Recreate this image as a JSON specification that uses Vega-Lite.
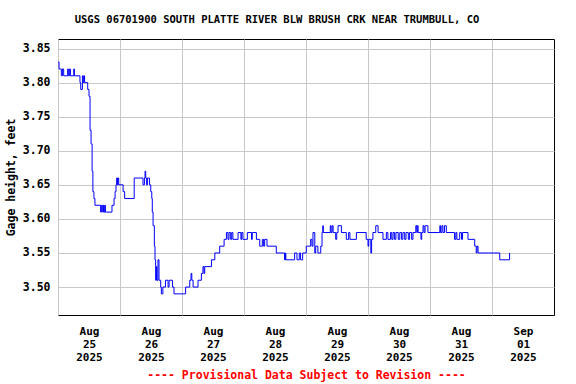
{
  "$schema": "https://vega.github.io/schema/vega-lite/v6.json",
  "width": 496,
  "height": 276,
  "autosize": "none",
  "padding": {"left": 58, "top": 39, "right": 22, "bottom": 69},
  "background": "white",
  "title": {
    "text": "USGS 06701900 SOUTH PLATTE RIVER BLW BRUSH CRK NEAR TRUMBULL, CO",
    "font": "DejaVu Sans Mono",
    "fontWeight": "bold",
    "fontSize": 10.5,
    "color": "black",
    "anchor": "middle",
    "frame": "group",
    "dx": -29,
    "offset": 14
  },
  "data": {
    "values": [
      {"t": "2025-08-25T00:00Z", "v": 3.83},
      {"t": "2025-08-25T00:24Z", "v": 3.82},
      {"t": "2025-08-25T01:18Z", "v": 3.81},
      {"t": "2025-08-25T01:42Z", "v": 3.82},
      {"t": "2025-08-25T02:12Z", "v": 3.81},
      {"t": "2025-08-25T03:45Z", "v": 3.82},
      {"t": "2025-08-25T04:00Z", "v": 3.81},
      {"t": "2025-08-25T04:30Z", "v": 3.82},
      {"t": "2025-08-25T04:48Z", "v": 3.81},
      {"t": "2025-08-25T06:06Z", "v": 3.82},
      {"t": "2025-08-25T06:21Z", "v": 3.81},
      {"t": "2025-08-25T08:30Z", "v": 3.80},
      {"t": "2025-08-25T08:48Z", "v": 3.79},
      {"t": "2025-08-25T09:27Z", "v": 3.81},
      {"t": "2025-08-25T09:48Z", "v": 3.80},
      {"t": "2025-08-25T10:06Z", "v": 3.81},
      {"t": "2025-08-25T10:18Z", "v": 3.80},
      {"t": "2025-08-25T11:30Z", "v": 3.79},
      {"t": "2025-08-25T12:00Z", "v": 3.78},
      {"t": "2025-08-25T12:24Z", "v": 3.73},
      {"t": "2025-08-25T12:48Z", "v": 3.71},
      {"t": "2025-08-25T13:12Z", "v": 3.67},
      {"t": "2025-08-25T13:30Z", "v": 3.64},
      {"t": "2025-08-25T13:54Z", "v": 3.63},
      {"t": "2025-08-25T14:18Z", "v": 3.62},
      {"t": "2025-08-25T16:30Z", "v": 3.61},
      {"t": "2025-08-25T16:48Z", "v": 3.62},
      {"t": "2025-08-25T17:18Z", "v": 3.61},
      {"t": "2025-08-25T17:36Z", "v": 3.62},
      {"t": "2025-08-25T17:48Z", "v": 3.61},
      {"t": "2025-08-25T18:06Z", "v": 3.62},
      {"t": "2025-08-25T18:21Z", "v": 3.61},
      {"t": "2025-08-25T20:54Z", "v": 3.62},
      {"t": "2025-08-25T21:42Z", "v": 3.63},
      {"t": "2025-08-25T22:06Z", "v": 3.64},
      {"t": "2025-08-25T22:27Z", "v": 3.65},
      {"t": "2025-08-25T22:42Z", "v": 3.66},
      {"t": "2025-08-25T23:00Z", "v": 3.65},
      {"t": "2025-08-25T23:12Z", "v": 3.66},
      {"t": "2025-08-25T23:30Z", "v": 3.65},
      {"t": "2025-08-26T01:12Z", "v": 3.64},
      {"t": "2025-08-26T01:48Z", "v": 3.63},
      {"t": "2025-08-26T05:30Z", "v": 3.66},
      {"t": "2025-08-26T08:54Z", "v": 3.65},
      {"t": "2025-08-26T09:27Z", "v": 3.66},
      {"t": "2025-08-26T09:42Z", "v": 3.67},
      {"t": "2025-08-26T09:57Z", "v": 3.66},
      {"t": "2025-08-26T10:18Z", "v": 3.65},
      {"t": "2025-08-26T10:36Z", "v": 3.66},
      {"t": "2025-08-26T11:24Z", "v": 3.65},
      {"t": "2025-08-26T11:54Z", "v": 3.64},
      {"t": "2025-08-26T12:18Z", "v": 3.63},
      {"t": "2025-08-26T12:30Z", "v": 3.61},
      {"t": "2025-08-26T12:48Z", "v": 3.59},
      {"t": "2025-08-26T13:18Z", "v": 3.56},
      {"t": "2025-08-26T13:33Z", "v": 3.54},
      {"t": "2025-08-26T13:48Z", "v": 3.51},
      {"t": "2025-08-26T14:06Z", "v": 3.53},
      {"t": "2025-08-26T14:18Z", "v": 3.51},
      {"t": "2025-08-26T14:42Z", "v": 3.54},
      {"t": "2025-08-26T15:06Z", "v": 3.51},
      {"t": "2025-08-26T15:45Z", "v": 3.50},
      {"t": "2025-08-26T16:00Z", "v": 3.49},
      {"t": "2025-08-26T16:36Z", "v": 3.50},
      {"t": "2025-08-26T17:36Z", "v": 3.51},
      {"t": "2025-08-26T18:36Z", "v": 3.50},
      {"t": "2025-08-26T19:00Z", "v": 3.51},
      {"t": "2025-08-26T20:18Z", "v": 3.50},
      {"t": "2025-08-26T20:54Z", "v": 3.49},
      {"t": "2025-08-27T01:24Z", "v": 3.50},
      {"t": "2025-08-27T03:00Z", "v": 3.51},
      {"t": "2025-08-27T03:30Z", "v": 3.52},
      {"t": "2025-08-27T03:48Z", "v": 3.51},
      {"t": "2025-08-27T04:18Z", "v": 3.50},
      {"t": "2025-08-27T06:12Z", "v": 3.51},
      {"t": "2025-08-27T07:30Z", "v": 3.52},
      {"t": "2025-08-27T08:06Z", "v": 3.53},
      {"t": "2025-08-27T08:30Z", "v": 3.52},
      {"t": "2025-08-27T08:48Z", "v": 3.53},
      {"t": "2025-08-27T11:24Z", "v": 3.54},
      {"t": "2025-08-27T12:42Z", "v": 3.55},
      {"t": "2025-08-27T14:36Z", "v": 3.56},
      {"t": "2025-08-27T16:18Z", "v": 3.57},
      {"t": "2025-08-27T17:12Z", "v": 3.58},
      {"t": "2025-08-27T17:48Z", "v": 3.57},
      {"t": "2025-08-27T18:12Z", "v": 3.58},
      {"t": "2025-08-27T18:51Z", "v": 3.57},
      {"t": "2025-08-27T19:15Z", "v": 3.58},
      {"t": "2025-08-27T19:42Z", "v": 3.57},
      {"t": "2025-08-27T21:42Z", "v": 3.58},
      {"t": "2025-08-27T22:48Z", "v": 3.57},
      {"t": "2025-08-27T23:06Z", "v": 3.58},
      {"t": "2025-08-27T23:36Z", "v": 3.57},
      {"t": "2025-08-28T01:18Z", "v": 3.58},
      {"t": "2025-08-28T02:54Z", "v": 3.57},
      {"t": "2025-08-28T03:12Z", "v": 3.58},
      {"t": "2025-08-28T04:48Z", "v": 3.57},
      {"t": "2025-08-28T06:06Z", "v": 3.56},
      {"t": "2025-08-28T07:06Z", "v": 3.57},
      {"t": "2025-08-28T07:36Z", "v": 3.56},
      {"t": "2025-08-28T08:00Z", "v": 3.57},
      {"t": "2025-08-28T08:54Z", "v": 3.56},
      {"t": "2025-08-28T12:30Z", "v": 3.55},
      {"t": "2025-08-28T15:42Z", "v": 3.54},
      {"t": "2025-08-28T16:00Z", "v": 3.55},
      {"t": "2025-08-28T16:12Z", "v": 3.54},
      {"t": "2025-08-28T19:36Z", "v": 3.55},
      {"t": "2025-08-28T20:30Z", "v": 3.54},
      {"t": "2025-08-28T21:24Z", "v": 3.55},
      {"t": "2025-08-28T21:54Z", "v": 3.54},
      {"t": "2025-08-28T22:42Z", "v": 3.55},
      {"t": "2025-08-29T00:06Z", "v": 3.56},
      {"t": "2025-08-29T01:48Z", "v": 3.57},
      {"t": "2025-08-29T02:18Z", "v": 3.56},
      {"t": "2025-08-29T02:42Z", "v": 3.58},
      {"t": "2025-08-29T03:24Z", "v": 3.55},
      {"t": "2025-08-29T03:45Z", "v": 3.56},
      {"t": "2025-08-29T04:36Z", "v": 3.55},
      {"t": "2025-08-29T05:42Z", "v": 3.56},
      {"t": "2025-08-29T06:12Z", "v": 3.58},
      {"t": "2025-08-29T06:30Z", "v": 3.59},
      {"t": "2025-08-29T06:42Z", "v": 3.58},
      {"t": "2025-08-29T09:24Z", "v": 3.59},
      {"t": "2025-08-29T09:42Z", "v": 3.58},
      {"t": "2025-08-29T10:06Z", "v": 3.59},
      {"t": "2025-08-29T10:30Z", "v": 3.58},
      {"t": "2025-08-29T11:30Z", "v": 3.57},
      {"t": "2025-08-29T11:54Z", "v": 3.58},
      {"t": "2025-08-29T12:24Z", "v": 3.59},
      {"t": "2025-08-29T13:42Z", "v": 3.58},
      {"t": "2025-08-29T15:36Z", "v": 3.57},
      {"t": "2025-08-29T16:30Z", "v": 3.58},
      {"t": "2025-08-29T17:00Z", "v": 3.57},
      {"t": "2025-08-29T19:30Z", "v": 3.58},
      {"t": "2025-08-29T23:18Z", "v": 3.57},
      {"t": "2025-08-30T00:00Z", "v": 3.56},
      {"t": "2025-08-30T00:18Z", "v": 3.57},
      {"t": "2025-08-30T01:06Z", "v": 3.55},
      {"t": "2025-08-30T01:24Z", "v": 3.57},
      {"t": "2025-08-30T01:54Z", "v": 3.58},
      {"t": "2025-08-30T03:00Z", "v": 3.59},
      {"t": "2025-08-30T03:54Z", "v": 3.58},
      {"t": "2025-08-30T05:48Z", "v": 3.57},
      {"t": "2025-08-30T07:06Z", "v": 3.58},
      {"t": "2025-08-30T07:42Z", "v": 3.57},
      {"t": "2025-08-30T08:42Z", "v": 3.58},
      {"t": "2025-08-30T09:12Z", "v": 3.57},
      {"t": "2025-08-30T09:42Z", "v": 3.58},
      {"t": "2025-08-30T10:18Z", "v": 3.57},
      {"t": "2025-08-30T10:48Z", "v": 3.58},
      {"t": "2025-08-30T11:42Z", "v": 3.57},
      {"t": "2025-08-30T12:18Z", "v": 3.58},
      {"t": "2025-08-30T13:00Z", "v": 3.57},
      {"t": "2025-08-30T13:30Z", "v": 3.58},
      {"t": "2025-08-30T14:12Z", "v": 3.57},
      {"t": "2025-08-30T14:42Z", "v": 3.58},
      {"t": "2025-08-30T15:36Z", "v": 3.57},
      {"t": "2025-08-30T16:06Z", "v": 3.58},
      {"t": "2025-08-30T16:54Z", "v": 3.57},
      {"t": "2025-08-30T17:24Z", "v": 3.58},
      {"t": "2025-08-30T18:30Z", "v": 3.59},
      {"t": "2025-08-30T18:54Z", "v": 3.58},
      {"t": "2025-08-30T19:06Z", "v": 3.59},
      {"t": "2025-08-30T19:24Z", "v": 3.58},
      {"t": "2025-08-30T20:30Z", "v": 3.57},
      {"t": "2025-08-30T20:48Z", "v": 3.58},
      {"t": "2025-08-30T21:18Z", "v": 3.59},
      {"t": "2025-08-30T21:42Z", "v": 3.58},
      {"t": "2025-08-30T22:06Z", "v": 3.59},
      {"t": "2025-08-30T23:12Z", "v": 3.58},
      {"t": "2025-08-31T03:48Z", "v": 3.59},
      {"t": "2025-08-31T04:06Z", "v": 3.58},
      {"t": "2025-08-31T04:36Z", "v": 3.59},
      {"t": "2025-08-31T05:00Z", "v": 3.58},
      {"t": "2025-08-31T05:36Z", "v": 3.59},
      {"t": "2025-08-31T06:18Z", "v": 3.58},
      {"t": "2025-08-31T09:30Z", "v": 3.57},
      {"t": "2025-08-31T10:00Z", "v": 3.58},
      {"t": "2025-08-31T10:24Z", "v": 3.57},
      {"t": "2025-08-31T11:30Z", "v": 3.58},
      {"t": "2025-08-31T12:12Z", "v": 3.57},
      {"t": "2025-08-31T12:36Z", "v": 3.58},
      {"t": "2025-08-31T14:42Z", "v": 3.57},
      {"t": "2025-08-31T17:18Z", "v": 3.56},
      {"t": "2025-08-31T17:54Z", "v": 3.55},
      {"t": "2025-08-31T18:12Z", "v": 3.56},
      {"t": "2025-08-31T18:36Z", "v": 3.55},
      {"t": "2025-09-01T03:00Z", "v": 3.54},
      {"t": "2025-09-01T06:48Z", "v": 3.55}
    ]
  },
  "mark": {"type": "line", "interpolate": "step-after", "color": "#0000ff", "strokeWidth": 1},
  "encoding": {
    "x": {
      "field": "t",
      "type": "temporal",
      "scale": {
        "type": "utc",
        "domain": [
          {"year": 2025, "month": 8, "date": 25, "utc": true},
          {"year": 2025, "month": 9, "date": 2, "utc": true}
        ]
      },
      "axis": {
        "values": [
          {"year": 2025, "month": 8, "date": 25, "utc": true},
          {"year": 2025, "month": 8, "date": 26, "utc": true},
          {"year": 2025, "month": 8, "date": 27, "utc": true},
          {"year": 2025, "month": 8, "date": 28, "utc": true},
          {"year": 2025, "month": 8, "date": 29, "utc": true},
          {"year": 2025, "month": 8, "date": 30, "utc": true},
          {"year": 2025, "month": 8, "date": 31, "utc": true},
          {"year": 2025, "month": 9, "date": 1, "utc": true}
        ],
        "labelExpr": "[utcFormat(datum.value, '%b'), utcFormat(datum.value, '%d'), utcFormat(datum.value, '%Y')]",
        "labelOffset": 31,
        "labelLineHeight": 13,
        "labelPadding": 10,
        "labelFont": "DejaVu Sans Mono",
        "labelFontWeight": "bold",
        "labelFontSize": 11,
        "labelColor": "black",
        "labelOverlap": false,
        "labelFlush": false,
        "ticks": false,
        "domain": false,
        "grid": true,
        "gridColor": "#c8c8c8",
        "gridOpacity": 1,
        "title": "---- Provisional Data Subject to Revision ----",
        "titleFont": "DejaVu Sans Mono",
        "titleFontWeight": "bold",
        "titleFontSize": 11.5,
        "titleColor": "#ff0000",
        "titlePadding": 7
      }
    },
    "y": {
      "field": "v",
      "type": "quantitative",
      "scale": {"domain": [3.459, 3.864], "zero": false, "nice": false},
      "axis": {
        "values": [3.5, 3.55, 3.6, 3.65, 3.7, 3.75, 3.8, 3.85],
        "format": ".2f",
        "labelFont": "DejaVu Sans Mono",
        "labelFontWeight": "bold",
        "labelFontSize": 11.5,
        "labelColor": "black",
        "labelPadding": 8,
        "ticks": false,
        "domain": false,
        "grid": true,
        "gridColor": "#c8c8c8",
        "gridOpacity": 1,
        "title": "Gage height, feet",
        "titleFont": "DejaVu Sans Mono",
        "titleFontWeight": "bold",
        "titleFontSize": 11.5,
        "titleColor": "black",
        "titlePadding": 6
      }
    }
  },
  "config": {
    "view": {"stroke": "black", "strokeWidth": 1}
  }
}
